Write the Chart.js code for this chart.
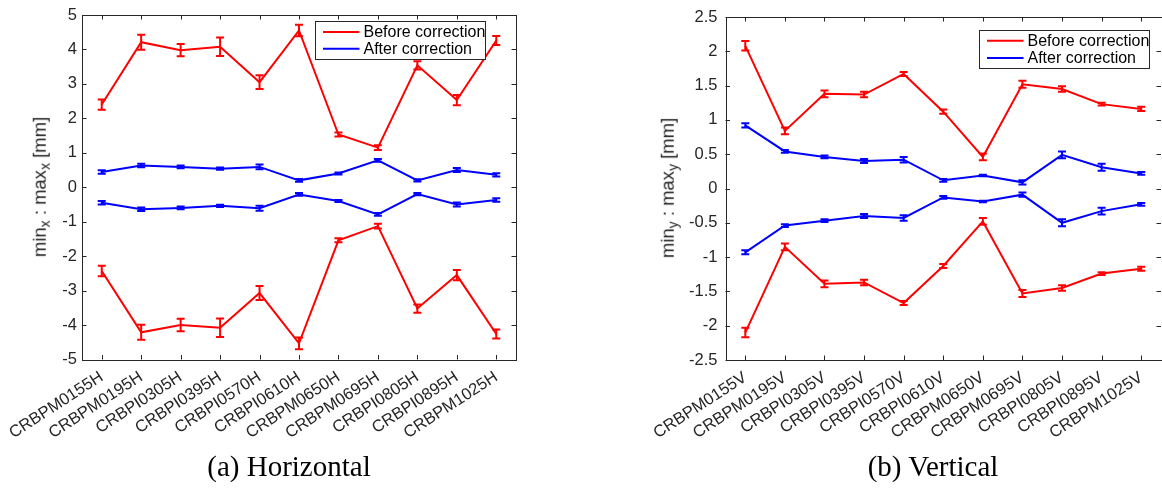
<!DOCTYPE html>
<html>
<head>
<meta charset="utf-8">
<script src="https://cdn.jsdelivr.net/npm/chart.js@4.4.0/dist/chart.umd.min.js"></script>
<style>
  html, body { margin: 0; padding: 0; background: #ffffff; }
  body { width: 1162px; height: 490px; position: relative; overflow: hidden; font-family: "Liberation Sans", Arial, sans-serif; }
  .panel { position: absolute; top: 0; }
  .ytitle { position: absolute; white-space: nowrap; font-family: "Liberation Sans", Arial, sans-serif; font-size: 18.5px; color: #262626; line-height: 1; transform: translate(-50%, -50%) rotate(-90deg); }
  .ytitle sub { font-size: 0.75em; vertical-align: -0.3em; line-height: 0; }
  .caption { position: absolute; white-space: nowrap; font-family: "Liberation Serif", "Times New Roman", serif; font-size: 29px; color: #000; line-height: 1; transform: translate(-50%, -50%); }
</style>
</head>
<body>
<div class="panel" style="left:0px;width:580px;height:490px;"><canvas id="chartH" width="580" height="490"></canvas></div>
<div class="panel" style="left:580px;width:582px;height:490px;"><canvas id="chartV" width="582" height="490"></canvas></div>
<div class="ytitle" style="left:40px;top:187px;">min<sub>x</sub> : max<sub>x</sub> [mm]</div>
<div class="ytitle" style="left:668px;top:188px;">min<sub>y</sub> : max<sub>y</sub> [mm]</div>
<div class="caption" style="left:289px;top:466px;">(a) Horizontal</div>
<div class="caption" style="left:933px;top:466px;">(b) Vertical</div>
<script>
// ---------------- data ----------------
const categoriesH = ["CRBPM0155H", "CRBPM0195H", "CRBPI0305H", "CRBPI0395H", "CRBPI0570H", "CRBPI0610H", "CRBPM0650H", "CRBPM0695H", "CRBPI0805H", "CRBPI0895H", "CRBPM1025H"];
const categoriesV = ["CRBPM0155V", "CRBPM0195V", "CRBPI0305V", "CRBPI0395V", "CRBPI0570V", "CRBPI0610V", "CRBPM0650V", "CRBPM0695V", "CRBPI0805V", "CRBPI0895V", "CRBPM1025V"];

const beforeMaxH = [2.40, 4.21, 3.98, 4.08, 3.05, 4.55, 1.53, 1.15, 3.54, 2.53, 4.26];
const beforeMinH = [-2.43, -4.21, -4.00, -4.08, -3.07, -4.53, -1.54, -1.13, -3.52, -2.55, -4.26];
const afterMaxH  = [0.44, 0.63, 0.59, 0.54, 0.59, 0.20, 0.40, 0.78, 0.20, 0.50, 0.36];
const afterMinH  = [-0.45, -0.64, -0.60, -0.54, -0.61, -0.21, -0.40, -0.79, -0.20, -0.50, -0.37];
const errBeforeH = [0.15, 0.22, 0.18, 0.27, 0.20, 0.17, 0.06, 0.07, 0.12, 0.15, 0.13];
const errAfterH  = [0.05, 0.05, 0.04, 0.03, 0.07, 0.04, 0.03, 0.04, 0.03, 0.06, 0.05];

const beforeMaxV = [2.08, 0.84, 1.38, 1.37, 1.67, 1.12, 0.46, 1.52, 1.45, 1.23, 1.16];
const beforeMinV = [-2.10, -0.85, -1.39, -1.37, -1.67, -1.13, -0.48, -1.53, -1.45, -1.24, -1.17];
const afterMaxV  = [0.92, 0.54, 0.46, 0.40, 0.42, 0.12, 0.19, 0.09, 0.49, 0.31, 0.22];
const afterMinV  = [-0.93, -0.54, -0.47, -0.40, -0.43, -0.13, -0.19, -0.09, -0.50, -0.33, -0.23];
const errBeforeV = [0.07, 0.05, 0.05, 0.04, 0.03, 0.03, 0.05, 0.05, 0.04, 0.02, 0.03];
const errAfterV  = [0.03, 0.02, 0.02, 0.03, 0.04, 0.02, 0.01, 0.03, 0.05, 0.05, 0.02];

const yTicksH = [-5, -4, -3, -2, -1, 0, 1, 2, 3, 4, 5];
const yTicksV = [-2.5, -2, -1.5, -1, -0.5, 0, 0.5, 1, 1.5, 2, 2.5];

const labelBefore = "Before correction";
const labelAfter = "After correction";

// ---------------- styling ----------------
const RED = "#ff0000";
const BLUE = "#0000ff";
const AXIS = "#262626";
const FONT = "'Liberation Sans', Arial, sans-serif";

// error bars drawn through the chart scales
const errorBarPlugin = {
  id: "errorBars",
  afterDatasetsDraw(chart) {
    const ctx = chart.ctx;
    const xs = chart.scales.x, ys = chart.scales.y;
    ctx.save();
    chart.data.datasets.forEach((ds) => {
      if (!ds.errorValues) return;
      ctx.strokeStyle = ds.borderColor;
      ctx.lineWidth = 2;
      ctx.beginPath();
      ds.data.forEach((v, i) => {
        const e = ds.errorValues[i];
        const px = xs.getPixelForValue(i);
        const y1 = ys.getPixelForValue(v + e);
        const y2 = ys.getPixelForValue(v - e);
        const cw = 4;
        ctx.moveTo(px, y1); ctx.lineTo(px, y2);
        ctx.moveTo(px - cw, y1); ctx.lineTo(px + cw, y1);
        ctx.moveTo(px - cw, y2); ctx.lineTo(px + cw, y2);
      });
      ctx.stroke();
    });
    ctx.restore();
  }
};

// MATLAB-like box with inward ticks plus a boxed legend
const boxPlugin = {
  id: "boxLegend",
  afterDraw(chart, args, opts) {
    const ctx = chart.ctx;
    const a = chart.chartArea;
    const xs = chart.scales.x, ys = chart.scales.y;
    ctx.save();
    ctx.strokeStyle = AXIS;
    ctx.lineWidth = 1;
    ctx.strokeRect(Math.round(a.left) + 0.5, Math.round(a.top) + 0.5, Math.round(a.right - a.left), Math.round(a.bottom - a.top));
    const L = 4.5;
    ctx.beginPath();
    xs.ticks.forEach((t, i) => {
      const px = Math.round(xs.getPixelForTick(i)) + 0.5;
      ctx.moveTo(px, a.bottom); ctx.lineTo(px, a.bottom - L);
      ctx.moveTo(px, a.top); ctx.lineTo(px, a.top + L);
    });
    ys.ticks.forEach((t, i) => {
      const py = Math.round(ys.getPixelForTick(i)) + 0.5;
      ctx.moveTo(a.left, py); ctx.lineTo(a.left + L, py);
      ctx.moveTo(a.right, py); ctx.lineTo(a.right - L, py);
    });
    ctx.stroke();

    // legend
    const bx = Math.round(a.right - opts.rightOffset - opts.width) + 0.5;
    const by = Math.round(a.top + opts.topOffset) + 0.5;
    ctx.fillStyle = "#ffffff";
    ctx.fillRect(bx, by, opts.width, opts.height);
    ctx.strokeStyle = AXIS;
    ctx.lineWidth = 1;
    ctx.strokeRect(bx, by, opts.width, opts.height);
    const seen = [];
    chart.data.datasets.forEach((ds) => {
      if (seen.find((s) => s.label === ds.label)) return;
      seen.push(ds);
    });
    ctx.font = "16px " + FONT;
    ctx.textBaseline = "middle";
    ctx.textAlign = "left";
    seen.forEach((ds, k) => {
      const ry = by + opts.rowTop + k * opts.rowGap;
      ctx.strokeStyle = ds.borderColor;
      ctx.lineWidth = 2;
      ctx.beginPath();
      ctx.moveTo(bx + 7.5, ry); ctx.lineTo(bx + 44, ry);
      ctx.stroke();
      ctx.fillStyle = "#000000";
      ctx.fillText(ds.label, bx + 48, ry + 1);
    });
    ctx.restore();
  }
};

function makeChart(canvasId, cats, bMax, aMax, bMin, aMin, eB, eA, yTicks, geom) {
  const ds = (label, data, color, err) => ({
    label, data, errorValues: err,
    borderColor: color, backgroundColor: color,
    borderWidth: 2, pointRadius: 0, tension: 0, fill: false
  });
  return new Chart(document.getElementById(canvasId), {
    type: "line",
    data: {
      labels: cats,
      datasets: [
        ds(labelBefore, bMax, RED, eB),
        ds(labelAfter, aMax, BLUE, eA),
        ds(labelBefore, bMin, RED, eB),
        ds(labelAfter, aMin, BLUE, eA)
      ]
    },
    options: {
      responsive: false,
      animation: false,
      devicePixelRatio: 1,
      layout: { autoPadding: false, padding: { left: 0, right: geom.padRight, top: geom.padTop, bottom: 0 } },
      plugins: {
        legend: { display: false },
        tooltip: { enabled: false },
        boxLegend: geom.legend
      },
      scales: {
        x: {
          type: "category",
          offset: true,
          grid: { display: false, drawTicks: false },
          border: { display: false },
          ticks: {
            autoSkip: false, minRotation: 33, maxRotation: 33, padding: 8,
            color: AXIS, font: { family: FONT, size: 16.5 }
          },
          afterFit(s) { s.height = geom.xHeight; s.paddingLeft = 0; s.paddingRight = 0; }
        },
        y: {
          type: "linear",
          min: yTicks[0], max: yTicks[yTicks.length - 1],
          grid: { display: false, drawTicks: false },
          border: { display: false },
          afterBuildTicks(s) { s.ticks = yTicks.map((v) => ({ value: v })); },
          ticks: {
            padding: geom.yPad, color: AXIS, font: { family: FONT, size: 16.5 },
            callback: (v) => String(v)
          },
          afterFit(s) { s.width = geom.yWidth; s.paddingTop = 0; s.paddingBottom = 0; }
        }
      }
    },
    plugins: [errorBarPlugin, boxPlugin]
  });
}

makeChart("chartH", categoriesH, beforeMaxH, afterMaxH, beforeMinH, afterMinH, errBeforeH, errAfterH, yTicksH, {
  padRight: 64, padTop: 15, xHeight: 130.5, yWidth: 82, yPad: 5,
  legend: { rightOffset: 31, topOffset: 6, width: 170, height: 38, rowTop: 10.5, rowGap: 16.7 }
});
makeChart("chartV", categoriesV, beforeMaxV, afterMaxV, beforeMinV, afterMinV, errBeforeV, errAfterV, yTicksV, {
  padRight: 1, padTop: 17, xHeight: 130, yWidth: 145.5, yPad: 8,
  legend: { rightOffset: 12, topOffset: 12.6, width: 170, height: 38, rowTop: 10.2, rowGap: 17.2 }
});
</script>
</body>
</html>
